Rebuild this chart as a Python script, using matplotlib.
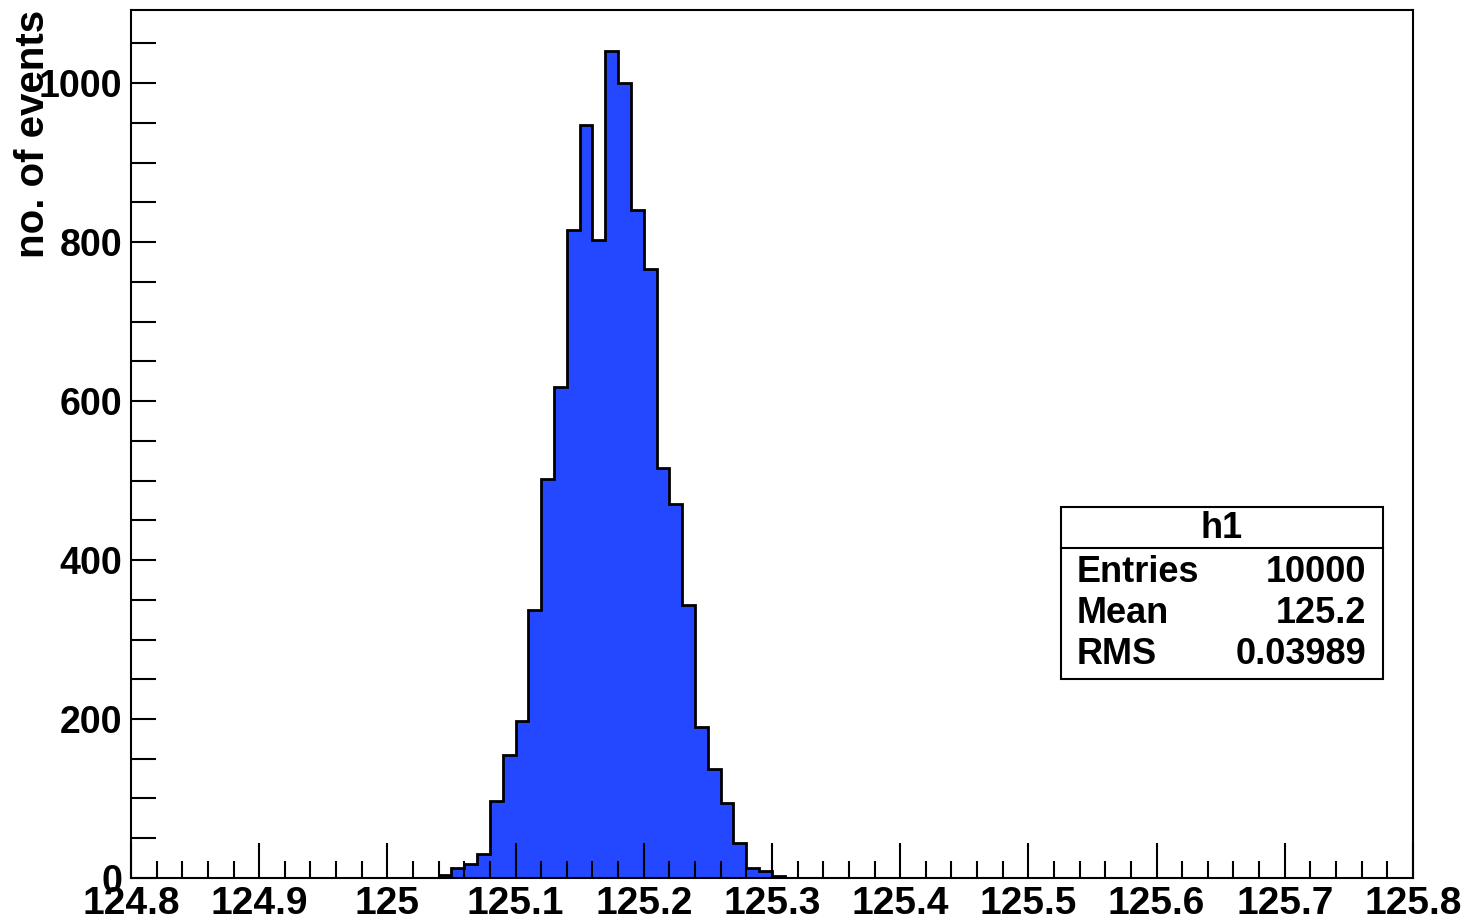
import numpy as np
import matplotlib
matplotlib.use('Agg')
import matplotlib.pyplot as plt
from matplotlib.ticker import MultipleLocator, FormatStrFormatter
from matplotlib.patches import Rectangle
from matplotlib.lines import Line2D

plt.rc('font', family='Liberation Sans', weight='bold')

# histogram h1, bin width 0.01, first filled bin starts at 125.04
bin_width = 0.01
first_edge = 125.04
counts = [4, 12, 18, 30, 97, 155, 198, 337, 502, 618, 815, 947, 803, 1040,
          1000, 840, 766, 516, 470, 343, 190, 137, 94, 44, 13, 9, 3]
x_range = (124.8, 125.8)
stats_title = 'h1'
stats_names = ['Entries', 'Mean', 'RMS']
stats_values = ['10000', '125.2', '0.03989']

edges = np.round(first_edge + bin_width * np.arange(len(counts) + 1), 2)

fig = plt.figure(figsize=(14.68, 9.24), dpi=100)
ax = fig.add_axes([0.0892, 0.0498, 0.8733, 0.9394])

ax.stairs(counts, edges, fill=True, color='#2448ff', linewidth=0)
ax.stairs(counts, edges, color='black', linewidth=2)

ax.set_xlim(*x_range)
ax.set_ylim(0, max(counts) * 1.05)

ax.xaxis.set_major_locator(MultipleLocator(0.1))
ax.xaxis.set_minor_locator(MultipleLocator(0.02))
ax.xaxis.set_major_formatter(FormatStrFormatter('%g'))
ax.yaxis.set_major_locator(MultipleLocator(200))
ax.yaxis.set_minor_locator(MultipleLocator(50))

ax.tick_params(axis='both', which='both', direction='in', width=1.5,
               top=False, right=False)
ax.tick_params(axis='x', which='major', length=25, pad=6, labelsize=28)
ax.tick_params(axis='x', which='minor', length=12)
ax.tick_params(axis='y', which='major', length=18, pad=6, labelsize=27)
ax.tick_params(axis='y', which='minor', length=18)
for lab in ax.get_xticklabels() + ax.get_yticklabels():
  lab.set_fontweight('bold')
for sp in ax.spines.values():
  sp.set_linewidth(1.5)

ax.text(-0.0765, 1.0, 'no. of events', transform=ax.transAxes, rotation=90,
        ha='center', va='top', fontsize=29, fontweight='bold')

# stats box
x0, x1 = 1061/1468, 1383/1468
y0, y1 = 1 - 679/924, 1 - 507/924
fig.patches.append(Rectangle((x0, y0), x1 - x0, y1 - y0, transform=fig.transFigure,
                             facecolor='white', edgecolor='black', linewidth=1.5))
fig.lines.append(Line2D([x0, x1], [1 - 548/924] * 2, transform=fig.transFigure,
                        color='black', linewidth=1.5))
fig.text(1222/1468, 1 - 528/924, stats_title, ha='center', va='center',
         fontsize=26, fontweight='bold')
for i, (n, v) in enumerate(zip(stats_names, stats_values)):
  yy = 1 - (572 + 41.5*i)/924
  fig.text(1077/1468, yy, n, ha='left', va='center', fontsize=26, fontweight='bold')
  fig.text(1366/1468, yy, v, ha='right', va='center', fontsize=26, fontweight='bold')

fig.savefig('out.png', dpi=100)
